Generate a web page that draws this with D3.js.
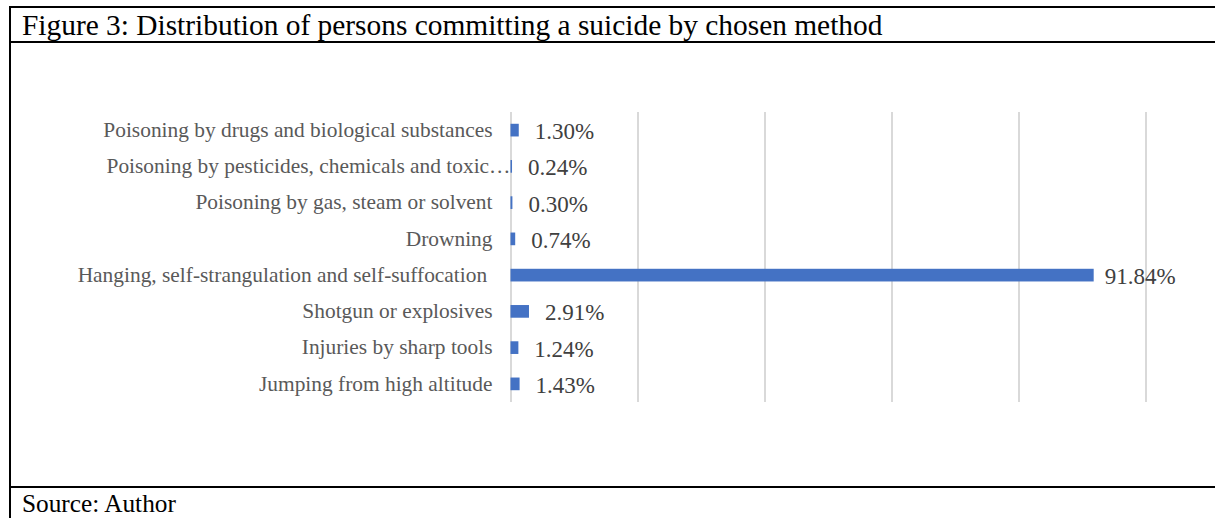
<!DOCTYPE html>
<html>
<head>
<meta charset="utf-8">
<script src="https://cdn.jsdelivr.net/npm/d3@7"></script>
<style>
  html, body { margin: 0; padding: 0; background: #fff; }
  svg { display: block; }
  text { font-family: "Liberation Serif", "Times New Roman", serif; }
</style>
</head>
<body>
<svg id="chart" width="1215" height="518"></svg>
<script>
const categories = [
  "Poisoning by drugs and biological substances",
  "Poisoning by pesticides, chemicals and toxic substances",
  "Poisoning by gas, steam or solvent",
  "Drowning",
  "Hanging, self-strangulation and self-suffocation",
  "Shotgun or explosives",
  "Injuries by sharp tools",
  "Jumping from high altitude"
];
const tickLabels = [
  "Poisoning by drugs and biological substances",
  "Poisoning by pesticides, chemicals and toxic\u2026",
  "Poisoning by gas, steam or solvent",
  "Drowning",
  "Hanging, self-strangulation and self-suffocation\u00a0",
  "Shotgun or explosives",
  "Injuries by sharp tools",
  "Jumping from high altitude"
];
const values = [0.0130, 0.0024, 0.0030, 0.0074, 0.9184, 0.0291, 0.0124, 0.0143];
const valueLabels = ["1.30%", "0.24%", "0.30%", "0.74%", "91.84%", "2.91%", "1.24%", "1.43%"];
const xTicks = [0, 0.2, 0.4, 0.6, 0.8, 1.0];
const titleText = "Figure 3: Distribution of persons committing a suicide by chosen method";
const sourceText = "Source: Author";

const FONT = "Liberation Serif, Times New Roman, serif";
const svg = d3.select("#chart");

// frame lines
const frame = svg.append("g").attr("stroke", "#000").attr("stroke-width", 2);
frame.append("line").attr("x1", 9).attr("x2", 1215).attr("y1", 7).attr("y2", 7);
frame.append("line").attr("x1", 9).attr("x2", 1215).attr("y1", 42).attr("y2", 42);
frame.append("line").attr("x1", 9).attr("x2", 1215).attr("y1", 487).attr("y2", 487);
frame.append("line").attr("x1", 10).attr("x2", 10).attr("y1", 6).attr("y2", 518);

svg.append("text").attr("x", 22).attr("y", 35)
  .attr("font-family", FONT).attr("font-size", 29.4).attr("fill", "#000").text(titleText);
svg.append("text").attr("x", 22).attr("y", 512)
  .attr("font-family", FONT).attr("font-size", 25.3).attr("fill", "#000").text(sourceText);

const x = d3.scaleLinear().domain([0, 1]).range([510.5, 1145.5]);
const y = d3.scaleBand().domain(categories).range([112, 402]).paddingInner(0.65).paddingOuter(0.325);

// gridlines
const grid = svg.append("g")
  .attr("transform", "translate(0,402)")
  .call(d3.axisBottom(x).tickValues(xTicks).tickSize(-(402 - 112)).tickFormat(""));
grid.select(".domain").remove();
grid.selectAll(".tick line").attr("stroke", "#d9d9d9").attr("stroke-width", 2);

// bars
svg.append("g").selectAll("rect").data(values).join("rect")
  .attr("x", x(0))
  .attr("y", (d, i) => y(categories[i]))
  .attr("width", d => x(d) - x(0))
  .attr("height", y.bandwidth())
  .attr("fill", "#4472C4");

// category axis
const yAxis = svg.append("g")
  .attr("transform", `translate(${x(0)},0)`)
  .call(d3.axisLeft(y).tickSize(0).tickPadding(18).tickFormat((d, i) => tickLabels[i]));
yAxis.select(".domain").remove();
yAxis.selectAll(".tick text")
  .attr("font-family", FONT)
  .attr("font-size", 21.4)
  .attr("fill", "#595959")
  .attr("dx", (d, i) => i === 1 ? 18 : 0);

// value labels
svg.append("g").selectAll("text").data(values).join("text")
  .attr("x", d => x(d) + (d > 0.5 ? 11 : 16))
  .attr("y", (d, i) => y(categories[i]) + y.bandwidth() / 2 + 1)
  .attr("dy", "0.35em")
  .attr("font-family", FONT)
  .attr("font-size", 23)
  .attr("fill", "#404040")
  .text((d, i) => valueLabels[i]);
</script>
</body>
</html>
